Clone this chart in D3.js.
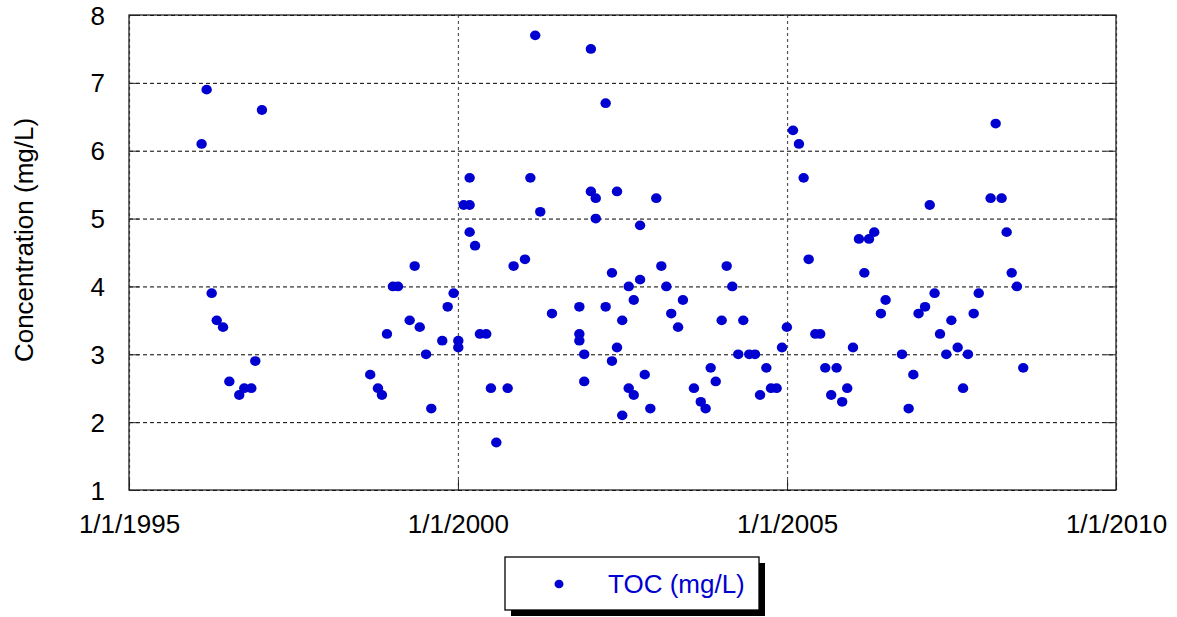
<!DOCTYPE html>
<html>
<head>
<meta charset="utf-8">
<script src="https://cdn.jsdelivr.net/npm/d3@7"></script>
<style>
  html, body { margin: 0; padding: 0; background: #fff; }
  svg { display: block; font-family: "Liberation Sans", Arial, sans-serif; }
</style>
</head>
<body>
<svg id="chart" width="1177" height="617"></svg>
<script>
// ---- data ----
const sampleDates = [
  "1996-02-08","1996-03-07","1996-04-04","1996-05-02","1996-06-06","1996-07-11","1996-09-04","1996-10-02","1996-11-10","1996-12-02",
  "1997-01-08",
  "1998-09-01","1998-10-14","1998-11-05","1998-12-03",
  "1999-01-05","1999-02-02","1999-04-08","1999-05-06","1999-06-03","1999-07-08","1999-08-06","1999-10-06","1999-11-05","1999-12-08",
  "2000-01-03","2000-01-03","2000-02-02","2000-03-06","2000-03-06","2000-03-06","2000-04-05","2000-05-02","2000-06-06","2000-07-02","2000-08-01","2000-10-03","2000-11-05",
  "2001-01-07","2001-02-06","2001-03-05","2001-04-02","2001-06-06","2001-11-05","2001-11-05","2001-11-05","2001-12-02","2001-12-02",
  "2002-01-08","2002-01-08","2002-02-04","2002-02-04","2002-03-31","2002-03-31","2002-05-05","2002-05-05","2002-06-02","2002-06-02","2002-07-01","2002-07-01","2002-08-06","2002-08-06","2002-09-03","2002-09-03","2002-10-08","2002-10-08","2002-11-03","2002-12-04",
  "2003-01-06","2003-02-03","2003-03-03","2003-03-30","2003-05-07","2003-06-03","2003-08-03","2003-09-10","2003-10-07","2003-11-04","2003-12-02",
  "2004-01-04","2004-02-01","2004-03-03","2004-04-05","2004-05-03","2004-06-05","2004-07-07","2004-08-04","2004-09-08","2004-10-04","2004-11-04","2004-12-04","2004-12-31",
  "2005-02-03","2005-03-08","2005-04-03","2005-05-01","2005-06-07","2005-07-04","2005-08-01","2005-09-03","2005-10-03","2005-11-03","2005-12-01",
  "2006-01-02","2006-02-04","2006-03-06","2006-04-01","2006-04-30","2006-06-06","2006-07-02","2006-10-01","2006-11-07","2006-12-03",
  "2007-01-01","2007-02-06","2007-03-04","2007-03-31","2007-04-30","2007-06-04","2007-07-02","2007-08-06","2007-09-05","2007-10-02","2007-11-03","2007-12-01",
  "2008-02-05","2008-03-04","2008-04-06","2008-05-04","2008-06-01","2008-06-30","2008-08-04"
];
const tocValues = [
  6.1,6.9,3.9,3.5,3.4,2.6,2.4,2.5,2.5,2.9,
  6.6,
  2.7,2.5,2.4,3.3,
  4.0,4.0,3.5,4.3,3.4,3.0,2.2,3.2,3.7,3.9,
  3.2,3.1,5.2,5.6,5.2,4.8,4.6,3.3,3.3,2.5,1.7,2.5,4.3,
  4.4,5.6,7.7,5.1,3.6,3.7,3.3,3.2,3.0,2.6,
  7.5,5.4,5.3,5.0,6.7,3.7,4.2,2.9,5.4,3.1,3.5,2.1,4.0,2.5,3.8,2.4,4.9,4.1,2.7,2.2,
  5.3,4.3,4.0,3.6,3.4,3.8,2.5,2.3,2.2,2.8,2.6,
  3.5,4.3,4.0,3.0,3.5,3.0,3.0,2.4,2.8,2.5,2.5,3.1,3.4,
  6.3,6.1,5.6,4.4,3.3,3.3,2.8,2.4,2.8,2.3,2.5,
  3.1,4.7,4.2,4.7,4.8,3.6,3.8,3.0,2.2,2.7,
  3.6,3.7,5.2,3.9,3.3,3.0,3.5,3.1,2.5,3.0,3.6,3.9,
  5.3,6.4,5.3,4.8,4.2,4.0,2.8
];
const xTickLabels = ["1995-01-01","2000-01-01","2005-01-01","2010-01-01"];
const yTickValues = [1,2,3,4,5,6,7,8];
const seriesName = "TOC (mg/L)";
const yTitle = "Concentration (mg/L)";

// ---- layout ----
const svg = d3.select("#chart");
const L = 129, R = 1116, T = 15, B = 490;
const W = R - L, H = B - T;
const FS = 26;
const parse = d3.timeParse("%Y-%m-%d");
const points = sampleDates.map((d, i) => ({ date: parse(d), v: tocValues[i] }));
const xTicks = xTickLabels.map(parse);

const x = d3.scaleTime().domain([xTicks[0], xTicks[xTicks.length - 1]]).range([0, W]);
const y = d3.scaleLinear().domain([1, 8]).range([H, 0]);

const g = svg.append("g").attr("transform", `translate(${L},${T})`);

// gridlines
g.append("g")
  .call(d3.axisLeft(y).tickValues(yTickValues).tickSize(-W).tickFormat(""))
  .call(s => s.select(".domain").remove())
  .call(s => s.selectAll("line").attr("stroke", "#000").attr("stroke-width", 1).attr("stroke-dasharray", "4,3"));
g.append("g")
  .call(d3.axisTop(x).tickValues(xTicks).tickSize(-H).tickFormat(""))
  .call(s => s.select(".domain").remove())
  .call(s => s.selectAll("line").attr("stroke", "#555").attr("stroke-width", 1.2).attr("stroke-dasharray", "3,3"));

// frame
g.append("rect").attr("x", 0).attr("y", 0).attr("width", W).attr("height", H)
  .attr("fill", "none").attr("stroke", "#222").attr("stroke-width", 1.3);

// axes with inward ticks
const yAxisL = g.append("g")
  .call(d3.axisLeft(y).tickValues(yTickValues).tickSizeInner(-10).tickSizeOuter(0).tickFormat(d3.format("d")));
yAxisL.select(".domain").remove();
yAxisL.selectAll("line").attr("stroke", "#222");
yAxisL.selectAll("text")
  .attr("x", -24).attr("dy", "0.35em")
  .attr("font-size", FS).attr("fill", "#000")
  .attr("font-family", "Liberation Sans, Arial, sans-serif");

const yAxisR = g.append("g").attr("transform", `translate(${W},0)`)
  .call(d3.axisRight(y).tickValues(yTickValues).tickSizeInner(-10).tickSizeOuter(0).tickFormat(""));
yAxisR.select(".domain").remove();
yAxisR.selectAll("line").attr("stroke", "#222");

const xAxis = g.append("g").attr("transform", `translate(0,${H})`)
  .call(d3.axisBottom(x).tickValues(xTicks).tickSizeInner(-10).tickSizeOuter(0).tickFormat(d3.timeFormat("%-m/%-d/%Y")));
xAxis.select(".domain").remove();
xAxis.selectAll("line").attr("stroke", "#222");
xAxis.selectAll("text")
  .attr("y", 43).attr("dy", 0)
  .attr("font-size", FS).attr("fill", "#000")
  .attr("font-family", "Liberation Sans, Arial, sans-serif");

// points
g.append("g").selectAll("ellipse").data(points).enter().append("ellipse")
  .attr("cx", d => x(d.date)).attr("cy", d => y(d.v))
  .attr("rx", 5.2).attr("ry", 4.9)
  .attr("fill", "#0000d0");

// y title
svg.append("text")
  .attr("transform", "translate(33,240) rotate(-90)")
  .attr("text-anchor", "middle")
  .attr("font-size", FS).attr("fill", "#000")
  .text(yTitle);

// legend
const lg = svg.append("g");
lg.append("rect").attr("x", 511).attr("y", 563).attr("width", 254).attr("height", 53).attr("fill", "#000");
lg.append("rect").attr("x", 505).attr("y", 557).attr("width", 254).attr("height", 53)
  .attr("fill", "#fff").attr("stroke", "#000").attr("stroke-width", 1.3);
lg.append("ellipse").attr("cx", 559).attr("cy", 584).attr("rx", 4.5).attr("ry", 4.3).attr("fill", "#0000d0");
lg.append("text")
  .attr("x", 608).attr("y", 593)
  .attr("font-size", FS).attr("fill", "#0000d0")
  .text(seriesName);
</script>
</body>
</html>
